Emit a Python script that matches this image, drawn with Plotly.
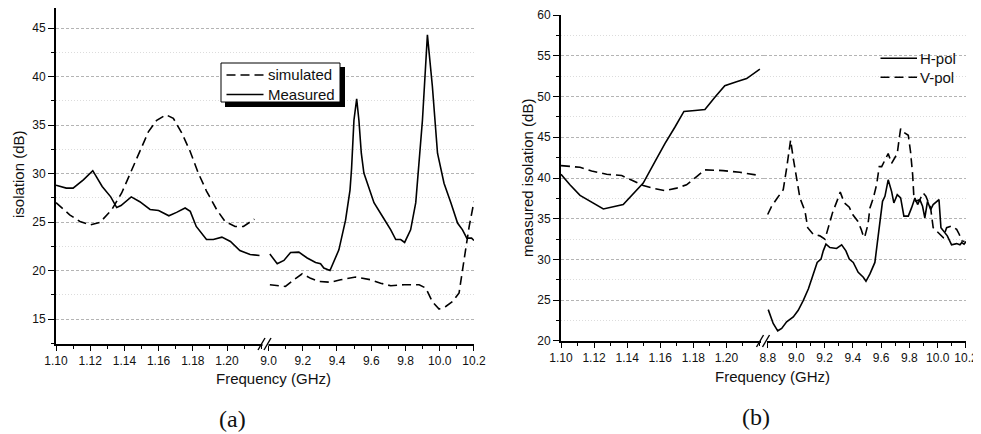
import plotly.graph_objects as go

# ---------------- data: panel (a) ----------------
a_sim_L_f = [1.100, 1.108, 1.114, 1.120, 1.1257, 1.1326, 1.1384, 1.1443, 1.149, 1.154, 1.1589,
             1.1643, 1.1686, 1.1735, 1.1784, 1.1832, 1.188, 1.194, 1.1989, 1.2047, 1.2096, 1.2160]
a_sim_L_v = [27.0, 25.75, 25.06, 24.7, 24.96, 26.27, 28.0, 30.4, 32.45, 34.3, 35.5,
             36.06, 35.7, 34.2, 32.3, 30.05, 28.2, 26.27, 25.06, 24.55, 24.55, 25.3]
a_sim_X_f = [9.008, 9.051, 9.099, 9.148, 9.197, 9.246, 9.295, 9.363, 9.421, 9.509, 9.597, 9.655,
             9.714, 9.792, 9.88, 9.918, 9.957, 9.996, 10.035, 10.074, 10.113, 10.142, 10.172, 10.2]
a_sim_X_v = [18.54, 18.43, 18.36, 19.05, 19.67, 19.2, 18.88, 18.8, 19.05, 19.33, 19.05, 18.7,
             18.43, 18.54, 18.54, 18.2, 16.8, 16.03, 16.3, 16.8, 17.7, 21.1, 24.55, 27.1]
a_meas_L_f = [1.100, 1.106, 1.110, 1.116, 1.1215, 1.127, 1.132, 1.1355, 1.138, 1.144, 1.149, 1.155,
              1.160, 1.166, 1.1705, 1.1755, 1.1785, 1.182, 1.188, 1.192, 1.197, 1.202, 1.2075,
              1.2135, 1.219]
a_meas_L_v = [28.8, 28.5, 28.5, 29.36, 30.3, 28.67, 27.6, 26.5, 26.7, 27.6, 27.1, 26.3,
              26.2, 25.65, 26.0, 26.45, 26.1, 24.55, 23.2, 23.2, 23.45, 23.0, 22.07,
              21.66, 21.56]
a_meas_X_f = [9.008, 9.051, 9.09, 9.129, 9.177, 9.226, 9.275, 9.304, 9.323, 9.359, 9.411, 9.45,
              9.476, 9.485, 9.499, 9.515, 9.528, 9.542, 9.557, 9.573, 9.616, 9.665, 9.714, 9.743,
              9.772, 9.795, 9.83, 9.86, 9.87, 9.899, 9.928, 9.957, 9.987, 10.025, 10.065, 10.104,
              10.133, 10.158, 10.186, 10.2]
a_meas_X_v = [21.7, 20.7, 21.04, 21.87, 21.9, 21.3, 20.84, 20.7, 20.26, 20.0, 22.14, 25.2,
              28.3, 30.5, 35.5, 37.7, 35.5, 32.1, 30.05, 29.2, 27.0, 25.6, 24.2, 23.2,
              23.2, 22.9, 24.2, 27.0, 29.4, 35.5, 44.3, 39.0, 32.1, 29.0, 27.0, 24.9,
              24.2, 23.35, 23.35, 23.1]

# ---------------- data: panel (b) ----------------
b_h_L_f = [1.100, 1.1054, 1.1115, 1.1185, 1.1256, 1.1376, 1.1437, 1.1497, 1.1568, 1.1628, 1.1689,
           1.1743, 1.181, 1.187, 1.193, 1.199, 1.2061, 1.2122, 1.2202]
b_h_L_v = [40.46, 39.17, 37.87, 37.06, 36.2, 36.74, 38.03, 39.37, 42.0, 44.23, 46.26,
           48.17, 48.29, 48.4, 49.9, 51.33, 51.8, 52.2, 53.35]
b_v_L_f = [1.100, 1.1115, 1.1185, 1.1276, 1.1367, 1.1427, 1.1497, 1.1568, 1.1628, 1.1699, 1.1759,
           1.182, 1.187, 1.198, 1.2081, 1.2202]
b_v_L_v = [41.52, 41.31, 40.87, 40.46, 40.3, 39.78, 39.09, 38.69, 38.44, 38.76, 39.17,
           40.18, 41.0, 40.91, 40.7, 40.3]
b_h_X_f = [8.802, 8.837, 8.869, 8.897, 8.932, 8.979, 9.014, 9.05, 9.086, 9.12, 9.148, 9.175, 9.191,
           9.21, 9.238, 9.285, 9.321, 9.351, 9.375, 9.403, 9.438, 9.474, 9.493, 9.521, 9.556, 9.572,
           9.592, 9.61, 9.627, 9.65, 9.674, 9.69, 9.714, 9.738, 9.761, 9.792, 9.815, 9.839, 9.858,
           9.874, 9.893, 9.909, 9.928, 9.95, 9.968, 9.992, 10.009, 10.023, 10.039, 10.068, 10.098,
           10.134, 10.157, 10.17, 10.186, 10.2]
b_h_X_v = [23.85, 22.15, 21.25, 21.54, 22.35, 22.96, 23.77, 24.98, 26.4, 28.23, 29.64, 30.05, 31.06,
           31.88, 31.47, 31.35, 31.8, 31.06, 30.05, 29.64, 28.43, 27.82, 27.33, 28.23, 29.64, 31.88,
           34.7, 37.14, 37.75, 39.78, 38.36, 36.94, 37.95, 37.55, 35.32, 35.32, 36.33, 37.55, 36.74,
           37.35, 36.53, 35.11, 37.14, 36.13, 36.74, 37.14, 37.35, 33.9, 33.5, 32.9, 31.8,
           31.95, 31.8, 32.07, 31.88, 32.2]
b_v_X_f = [8.798, 8.826, 8.866, 8.908, 8.932, 8.951, 8.96, 8.979, 9.003, 9.026, 9.062, 9.081, 9.12,
           9.167, 9.203, 9.227, 9.256, 9.292, 9.311, 9.34, 9.375, 9.399, 9.435, 9.459, 9.47, 9.483,
           9.507, 9.521, 9.545, 9.568, 9.587, 9.604, 9.627, 9.65, 9.674, 9.697, 9.714, 9.728, 9.738,
           9.756, 9.792, 9.808, 9.823, 9.832, 9.846, 9.874, 9.898, 9.917, 9.933, 9.95, 9.968, 10.011,
           10.039, 10.063, 10.098, 10.134, 10.152, 10.17, 10.19]
b_v_X_v = [35.52, 36.53, 37.55, 38.56, 41.19, 43.62, 44.64, 42.4, 39.97, 37.55, 35.93, 33.9, 33.1,
           32.9, 32.48, 33.9, 35.72, 37.35, 38.27, 36.94, 36.41, 35.52, 34.7, 33.7, 33.1, 32.7,
           34.3, 36.33, 37.55, 39.17, 41.4, 41.4, 42.2, 43.0, 41.8, 42.6, 43.0, 44.84, 46.05,
           45.65, 45.25, 43.22, 40.39, 37.55, 37.14, 37.35, 38.16, 37.75, 37.14, 36.33, 33.9, 33.1,
           32.7, 33.9, 34.1, 33.7, 33.1, 32.28, 32.2]

# ---------------- tick labels ----------------
L_ticks = [1.10, 1.12, 1.14, 1.16, 1.18, 1.20]
L_tick_text = ["1.10", "1.12", "1.14", "1.16", "1.18", "1.20"]
a_X_ticks = [9.0, 9.2, 9.4, 9.6, 9.8, 10.0, 10.2]
b_X_ticks = [8.8, 9.0, 9.2, 9.4, 9.6, 9.8, 10.0, 10.2]

legend_a_names = ["simulated", "Measured"]
legend_b_names = ["H-pol", "V-pol"]

# page body has an 8px margin: the figure starts at (8, 8) of the window
OFF = 8
W, H = 981 - OFF, 434 - OFF
def PX(x): return (x - OFF) / W
def PY(y): return min(1.0, 1 - (y - OFF) / H)

FONT = "Liberation Sans, Arial, sans-serif"
DASH = "9px,5px"
LW = 1.6
AXW = 1.8

fig = go.Figure()
def line(x, y, xa, ya, dash, name):
    fig.add_trace(go.Scatter(x=x, y=y, xaxis=xa, yaxis=ya, mode="lines", name=name,
                             line=dict(color="black", width=LW, dash=dash),
                             showlegend=False, hoverinfo="skip"))

line(a_sim_L_f, a_sim_L_v, "x", "y", DASH, legend_a_names[0])
line(a_sim_X_f, a_sim_X_v, "x2", "y", DASH, legend_a_names[0])
line(a_meas_L_f, a_meas_L_v, "x", "y", "solid", legend_a_names[1])
line(a_meas_X_f, a_meas_X_v, "x2", "y", "solid", legend_a_names[1])

line(b_h_L_f, b_h_L_v, "x3", "y2", "solid", legend_b_names[0])
line(b_h_X_f, b_h_X_v, "x4", "y2", "solid", legend_b_names[0])
line(b_v_L_f, b_v_L_v, "x3", "y2", DASH, legend_b_names[1])
line(b_v_X_f, b_v_X_v, "x4", "y2", DASH, legend_b_names[1])

tickfont = dict(family=FONT, size=12, color="#111")
def xax(domain, rng, tickvals, ticktext, mdtick, tick0, anchor):
    return dict(domain=domain, range=rng, anchor=anchor, showgrid=False, zeroline=False,
                automargin=False, ticklabeloverflow="allow",
                showline=True, linecolor="black", linewidth=AXW,
                ticks="outside", ticklen=5, tickwidth=1.3, tickcolor="black",
                tickmode="array", tickvals=tickvals, ticktext=ticktext, tickfont=tickfont,
                minor=dict(dtick=mdtick, tick0=tick0, ticks="outside", ticklen=3,
                           tickwidth=1.2, tickcolor="black", showgrid=False),
                fixedrange=True)

def yax(domain, rng, anchor):
    return dict(domain=domain, range=rng, anchor=anchor, zeroline=False, automargin=False,
                ticklabeloverflow="allow",
                showline=True, linecolor="black", linewidth=AXW,
                ticks="outside", ticklen=6, tickwidth=1.3, tickcolor="black",
                dtick=5, tick0=0, tickfont=tickfont,
                showgrid=True, gridcolor="#b4b4b4", gridwidth=1, griddash="3px,2px",
                minor=dict(dtick=2.5, tick0=0, ticks="outside", ticklen=3, tickwidth=1.2,
                           tickcolor="black", showgrid=True, gridcolor="#dcdcdc",
                           griddash="1px,2px", gridwidth=1),
                fixedrange=True)

a_left, a_brk, a_right = 56, 265.5, 474
b_left, b_brk, b_right = 561, 764, 966

fig.update_layout(
    template="none",
    width=W, height=H, margin=dict(l=0, r=0, t=0, b=0, autoexpand=False),
    paper_bgcolor="white", plot_bgcolor="white", showlegend=False,
    xaxis=xax([PX(a_left), PX(a_brk)], [1.10, 1.2225], L_ticks, L_tick_text, 0.01, 1.10, "y"),
    xaxis2=xax([PX(a_brk), PX(a_right)], [8.9825, 10.2001], a_X_ticks,
               [f"{v:.1f}" for v in a_X_ticks], 0.1, 9.0, "y"),
    # top of panel (a) axis sits at the top of the figure (y = 8 px in the window)
    yaxis=yax([PY(344), PY(8)], [12.43, 47.07], "x"),
    xaxis3=xax([PX(b_left), PX(b_brk)], [1.10, 1.2227], L_ticks, L_tick_text, 0.01, 1.10, "y2"),
    xaxis4=xax([PX(b_brk), PX(b_right)], [8.772, 10.2001], b_X_ticks,
               [f"{v:.1f}" for v in b_X_ticks], 0.1, 8.8, "y2"),
    yaxis2=yax([PY(341), PY(15)], [19.999, 60.001], "x3"),
)

shapes = []
ann = []
def paper_line(x0, y0, x1, y1, color="black", width=1.4, dash="solid"):
    shapes.append(dict(type="line", xref="paper", yref="paper", x0=PX(x0), x1=PX(x1),
                       y0=PY(y0), y1=PY(y1), line=dict(color=color, width=width, dash=dash)))

# legend (panel a): shadow + framed box
shapes.append(dict(type="rect", xref="paper", yref="paper", x0=PX(225), x1=PX(345),
                   y0=PY(107), y1=PY(67), fillcolor="black", line=dict(width=0)))
shapes.append(dict(type="rect", xref="paper", yref="paper", x0=PX(221), x1=PX(340),
                   y0=PY(102), y1=PY(63), fillcolor="white",
                   line=dict(color="black", width=1)))
lfont = dict(family=FONT, size=15, color="#111")
for i, (nm, ds) in enumerate(zip(legend_a_names, [DASH, "solid"])):
    yy = 75 + i * 19.5
    paper_line(226.5, yy, 263.5, yy, width=LW, dash=ds)
    ann.append(dict(text=nm, x=PX(266), y=PY(yy), xref="paper", yref="paper", showarrow=False,
                    font=lfont, xanchor="left", yanchor="middle"))
# legend (panel b): no frame
for i, (nm, ds) in enumerate(zip(legend_b_names, ["solid", DASH])):
    yy = 58.3 + i * 19
    paper_line(880.5, yy, 917, yy, width=LW, dash=ds)
    ann.append(dict(text=nm, x=PX(918), y=PY(yy), xref="paper", yref="paper", showarrow=False,
                    font=lfont, xanchor="left", yanchor="middle"))

# axis break marks
def brk(cx, cy):
    paper_line(cx - 3, cy, cx + 3, cy, color="white", width=4)
    for dx in (-4, 2):
        paper_line(cx + dx - 3.5, cy + 6, cx + dx + 3.5, cy - 6)
brk(265.5, 344)
brk(764, 341)
fig.update_layout(shapes=shapes)

tfont = dict(family=FONT, size=15, color="#111")
ann.append(dict(text="Frequency (GHz)", x=PX(273.5), y=PY(378), xref="paper", yref="paper",
                showarrow=False, font=tfont, xanchor="center", yanchor="middle"))
ann.append(dict(text="Frequency (GHz)", x=PX(772.5), y=PY(376), xref="paper", yref="paper",
                showarrow=False, font=tfont, xanchor="center", yanchor="middle"))
ann.append(dict(text="isolation (dB)", x=PX(18), y=PY(174), xref="paper", yref="paper",
                showarrow=False, font=tfont, textangle=-90, xanchor="center", yanchor="middle"))
ann.append(dict(text="measured isolation (dB)", x=PX(527), y=PY(178), xref="paper", yref="paper",
                showarrow=False, font=tfont, textangle=-90, xanchor="center", yanchor="middle"))
cfont = dict(family="Liberation Serif, Times New Roman, serif", size=24, color="#111")
ann.append(dict(text="(a)", x=PX(232), y=PY(419), xref="paper", yref="paper",
                showarrow=False, font=cfont, xanchor="center", yanchor="middle"))
ann.append(dict(text="(b)", x=PX(756), y=PY(417), xref="paper", yref="paper",
                showarrow=False, font=cfont, xanchor="center", yanchor="middle"))
fig.update_layout(annotations=ann)

fig.write_html("out.html")
